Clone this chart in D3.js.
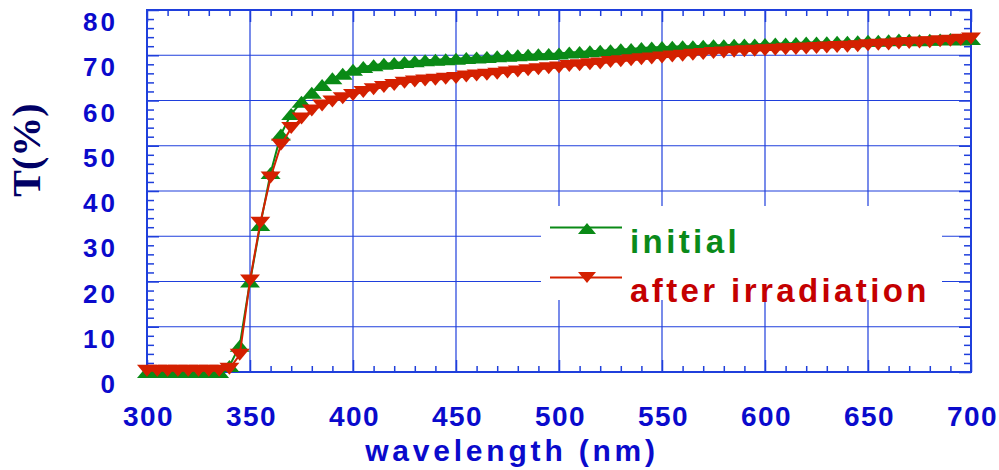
<!DOCTYPE html>
<html>
<head>
<meta charset="utf-8">
<script src="https://cdn.jsdelivr.net/npm/d3@7"></script>
<style>
body { margin: 0; background: #fff; }
svg { display: block; }
</style>
</head>
<body>
<svg width="999" height="470"></svg>
<script>
var wavelength = [300, 305, 310, 315, 320, 325, 330, 335, 340, 345,
    350, 355, 360, 365, 370, 375, 380, 385, 390, 395,
    400, 405, 410, 415, 420, 425, 430, 435, 440, 445,
    450, 455, 460, 465, 470, 475, 480, 485, 490, 495,
    500, 505, 510, 515, 520, 525, 530, 535, 540, 545,
    550, 555, 560, 565, 570, 575, 580, 585, 590, 595,
    600, 605, 610, 615, 620, 625, 630, 635, 640, 645,
    650, 655, 660, 665, 670, 675, 680, 685, 690, 695, 700];

var initial = [0.0, 0.0, 0.0, 0.0, 0.0, 0.0, 0.0, 0.0, 1.3, 5.8,
    20.0, 32.5, 44.0, 52.5, 57.0, 59.7, 61.7, 63.4, 64.9, 65.9,
    66.8, 67.4, 67.8, 68.1, 68.3, 68.5, 68.7, 68.9, 69.0, 69.1,
    69.2, 69.4, 69.5, 69.6, 69.8, 69.9, 70.0, 70.1, 70.2, 70.3,
    70.4, 70.6, 70.7, 70.9, 71.0, 71.1, 71.3, 71.4, 71.6, 71.7,
    71.8, 71.9, 72.0, 72.0, 72.1, 72.2, 72.2, 72.3, 72.4, 72.4,
    72.5, 72.6, 72.6, 72.7, 72.8, 72.8, 72.9, 73.0, 73.0, 73.1,
    73.2, 73.2, 73.3, 73.5, 73.4, 73.3, 73.4, 73.5, 73.6, 73.5, 73.6];

var irradiated = [0.3, 0.3, 0.3, 0.3, 0.3, 0.3, 0.3, 0.3, 0.7, 3.8,
    20.2, 33.0, 43.0, 50.2, 53.9, 56.0, 57.8, 58.9, 59.8, 60.5,
    61.2, 61.9, 62.5, 63.0, 63.4, 63.9, 64.2, 64.4, 64.6, 64.8,
    65.0, 65.3, 65.5, 65.7, 65.9, 66.2, 66.4, 66.7, 66.9, 67.1,
    67.3, 67.6, 67.8, 68.0, 68.2, 68.5, 68.7, 68.9, 69.1, 69.3,
    69.5, 69.7, 69.9, 70.1, 70.3, 70.5, 70.6, 70.8, 70.9, 71.0,
    71.1, 71.2, 71.3, 71.4, 71.5, 71.6, 71.7, 71.8, 71.9, 72.0,
    72.2, 72.3, 72.4, 72.6, 72.7, 72.8, 72.9, 73.1, 73.2, 73.4, 73.7];

var xTicks = [300, 350, 400, 450, 500, 550, 600, 650, 700];
var yTicks = [0, 10, 20, 30, 40, 50, 60, 70, 80];
var seriesNames = ["initial", "after irradiation"];

var svg = d3.select("svg"),
    plotLeft = 147, plotRight = 971, plotTop = 10, plotBottom = 372;

var x = d3.scaleLinear().domain([300, 700]).range([plotLeft, plotRight]);
var y = d3.scaleLinear().domain([0, 80]).range([plotBottom, plotTop]);

var axisBlue = "#1f3fdc",
    labelBlue = "#0a0acc",
    green = "#0a8a16",
    red = "#d42000";

var minorX = d3.range(300, 701, 10).filter(function (d) { return d % 50 !== 0; });
var minorY = d3.range(0, 81, 2).filter(function (d) { return d % 10 !== 0; });

// grid lines
var grid = svg.append("g").attr("stroke", axisBlue).attr("stroke-width", 1.2);
grid.selectAll(".gx").data(xTicks.slice(1, -1)).join("line")
    .attr("x1", function (d) { return x(d); })
    .attr("x2", function (d) { return x(d); })
    .attr("y1", plotTop).attr("y2", plotBottom);
grid.selectAll(".gy").data(yTicks.slice(1, -1)).join("line")
    .attr("x1", plotLeft).attr("x2", plotRight)
    .attr("y1", function (d) { return y(d); })
    .attr("y2", function (d) { return y(d); });

// inside ticks on all four sides
function tickAxis(axis, values, size, transform) {
    var g = svg.append("g")
            .attr("transform", transform)
            .call(axis.tickValues(values).tickSize(size).tickFormat(""));
    g.select(".domain").remove();
    g.selectAll("line").attr("stroke", axisBlue).attr("stroke-width", 1.5);
}
tickAxis(d3.axisBottom(x), minorX, -6, "translate(0," + plotBottom + ")");
tickAxis(d3.axisBottom(x), xTicks, -12, "translate(0," + plotBottom + ")");
tickAxis(d3.axisTop(x), minorX, -6, "translate(0," + plotTop + ")");
tickAxis(d3.axisTop(x), xTicks, -12, "translate(0," + plotTop + ")");
tickAxis(d3.axisLeft(y), minorY, -7, "translate(" + plotLeft + ",0)");
tickAxis(d3.axisLeft(y), yTicks, -12, "translate(" + plotLeft + ",0)");
tickAxis(d3.axisRight(y), minorY, -7, "translate(" + plotRight + ",0)");
tickAxis(d3.axisRight(y), yTicks, -12, "translate(" + plotRight + ",0)");

svg.append("rect")
    .attr("x", plotLeft).attr("y", plotTop)
    .attr("width", plotRight - plotLeft).attr("height", plotBottom - plotTop)
    .attr("fill", "none").attr("stroke", axisBlue).attr("stroke-width", 2);

// tick labels
svg.append("g").selectAll("text").data(xTicks).join("text")
    .attr("x", function (d) { return x(d) + 1.5; })
    .attr("y", 426)
    .attr("text-anchor", "middle")
    .attr("font-family", "Liberation Sans, Arial, sans-serif")
    .attr("font-weight", "bold")
    .attr("font-size", 28)
    .attr("letter-spacing", 1.5)
    .attr("fill", labelBlue)
    .text(function (d) { return d; });

svg.append("g").selectAll("text").data(yTicks).join("text")
    .attr("x", 118)
    .attr("y", function (d) { return y(d) + 21; })
    .attr("text-anchor", "end")
    .attr("font-family", "Liberation Sans, Arial, sans-serif")
    .attr("font-weight", "bold")
    .attr("font-size", 26)
    .attr("letter-spacing", 3)
    .attr("fill", labelBlue)
    .text(function (d) { return d; });

// axis titles
svg.append("text")
    .attr("x", 512).attr("y", 461)
    .attr("text-anchor", "middle")
    .attr("font-family", "Liberation Sans, Arial, sans-serif")
    .attr("font-weight", "bold")
    .attr("font-size", 30)
    .attr("letter-spacing", 3.8)
    .attr("fill", labelBlue)
    .text("wavelength (nm)");

svg.append("text")
    .attr("transform", "translate(40,150) rotate(-90)")
    .attr("text-anchor", "middle")
    .attr("font-family", "Liberation Serif, Times New Roman, serif")
    .attr("font-weight", "bold")
    .attr("font-size", 40)
    .attr("fill", "#000066")
    .text("T(%)");

// legend
var legend = svg.append("g");
legend.append("rect")
    .attr("x", 541).attr("y", 206).attr("width", 401).attr("height", 94)
    .attr("fill", "#fff");

var upTri = "M0,-6L10,6L-10,6Z",
    downTri = "M0,6L10,-6L-10,-6Z";

var series = [
    {name: seriesNames[0], values: initial, color: green, text: "#0a8a1a", shape: upTri},
    {name: seriesNames[1], values: irradiated, color: red, text: "#c40000", shape: downTri}
];

var line = d3.line()
        .x(function (d, i) { return x(wavelength[i]); })
        .y(function (d) { return y(d); });

series.forEach(function (s, k) {
    svg.append("path")
        .datum(s.values)
        .attr("d", line)
        .attr("fill", "none")
        .attr("stroke", s.color)
        .attr("stroke-width", 2);

    svg.append("g").selectAll("path").data(s.values).join("path")
        .attr("d", s.shape)
        .attr("transform", function (d, i) {
            return "translate(" + x(wavelength[i]) + "," + y(d) + ")";
        })
        .attr("fill", s.color);

    var ly = 227.5 + k * 50;
    legend.append("line")
        .attr("x1", 550).attr("x2", 622)
        .attr("y1", ly).attr("y2", ly)
        .attr("stroke", s.color).attr("stroke-width", 2);
    legend.append("path")
        .attr("d", s.shape)
        .attr("transform", "translate(587," + (ly + (k === 0 ? 1 : 0)) + ") scale(0.9)")
        .attr("fill", s.color);
    legend.append("text")
        .attr("x", 630).attr("y", 253 + k * 49)
        .attr("font-family", "Liberation Sans, Arial, sans-serif")
        .attr("font-weight", "bold")
        .attr("font-size", 33)
        .attr("letter-spacing", 3.4)
        .attr("fill", s.text)
        .text(s.name);
});
</script>
</body>
</html>
